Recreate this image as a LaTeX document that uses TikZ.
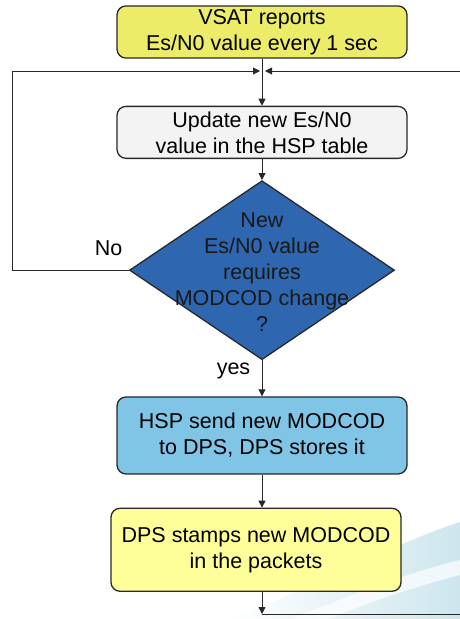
\documentclass[tikz,border=0pt]{standalone}
\usepackage{fontspec}
\setmainfont{Liberation Sans}
\usetikzlibrary{arrows.meta,shapes.geometric,positioning}

\definecolor{reportyellow}{RGB}{236,236,104}
\definecolor{tablegrey}{RGB}{243,243,243}
\definecolor{decisionblue}{RGB}{46,102,176}
\definecolor{hspblue}{RGB}{128,197,230}
\definecolor{stampyellow}{RGB}{255,255,153}
\definecolor{edgegrey}{RGB}{40,40,40}
\definecolor{swooshblue}{RGB}{205,230,238}

\tikzset{
  label font/.style={font=\fontsize{21.5}{26}\selectfont},
  stepbox/.style={draw=edgegrey, line width=1.3pt, rounded corners=9pt, align=center,
    minimum width=290pt, label font},
  flow/.style={->, draw=edgegrey, line width=0.9pt},
  edge/.style={draw=edgegrey, line width=0.9pt},
}

\begin{document}
\begin{tikzpicture}[x=1pt, y=-1pt, >={Triangle[length=7pt,width=7pt]}]
\useasboundingbox (0,0) rectangle (460,619);

% faint swoosh in the lower corner
\shade[left color=white, right color=swooshblue]
  (230,619) .. controls (320,585) and (390,545) .. (460,522) -- (460,619) -- cycle;
\shade[left color=white, right color=white, opacity=0.7]
  (290,619) .. controls (360,592) and (410,572) .. (460,560) -- (460,575)
  .. controls (410,588) and (360,605) .. (330,619) -- cycle;

\node[stepbox, fill=reportyellow, minimum height=52pt] (vsat) at (262,32) {VSAT reports\\Es/N0 value every 1 sec};
\node[stepbox, fill=tablegrey, minimum height=52pt, below=47pt of vsat] (update) {Update new Es/N0\\value in the HSP table};
\node[diamond, draw=edgegrey, line width=1.3pt, fill=decisionblue, minimum width=265pt,
  minimum height=179pt, inner sep=0pt, below=21pt of update] (check) {};
\node[label font, align=center, text=black!90, yshift=-2pt] (question) at (check) {New\\Es/N0 value\\requires\\MODCOD change\\?};
\node[stepbox, fill=hspblue, minimum height=77pt, below=36pt of check] (hsp) {HSP send new MODCOD\\to DPS, DPS stores it};
\node[stepbox, fill=stampyellow, minimum height=83pt, below=33pt of hsp, xshift=-6pt] (dps) {DPS stamps new MODCOD\\in the packets};

\node[label font, above left=11pt and 3pt of check.west] (no) {No};

% loop points
\coordinate (join) at (update.north |- 0,71);
\coordinate (loopleft) at (12,71);
\coordinate (loopright) at (460,71);
\coordinate (loopbottom) at (hsp.south |- 0,614);
\coordinate (exitright) at (460,614);

\draw[flow] (vsat) -- (update);
\draw[flow] (update) -- (check);
\draw[flow] (check) -- node[label font, left=8pt, pos=0.3] (yes) {yes} (hsp);
\draw[flow] (hsp.south) -- (hsp.south |- dps.north);
\draw[flow] (hsp.south |- dps.south) -- (loopbottom);
\draw[edge] (loopbottom) -- (exitright);
\draw[flow] (check.west) -| (loopleft) -- ([xshift=-2pt]join);
\draw[flow] (loopright) -- ([xshift=3pt]join);
\end{tikzpicture}
\end{document}
